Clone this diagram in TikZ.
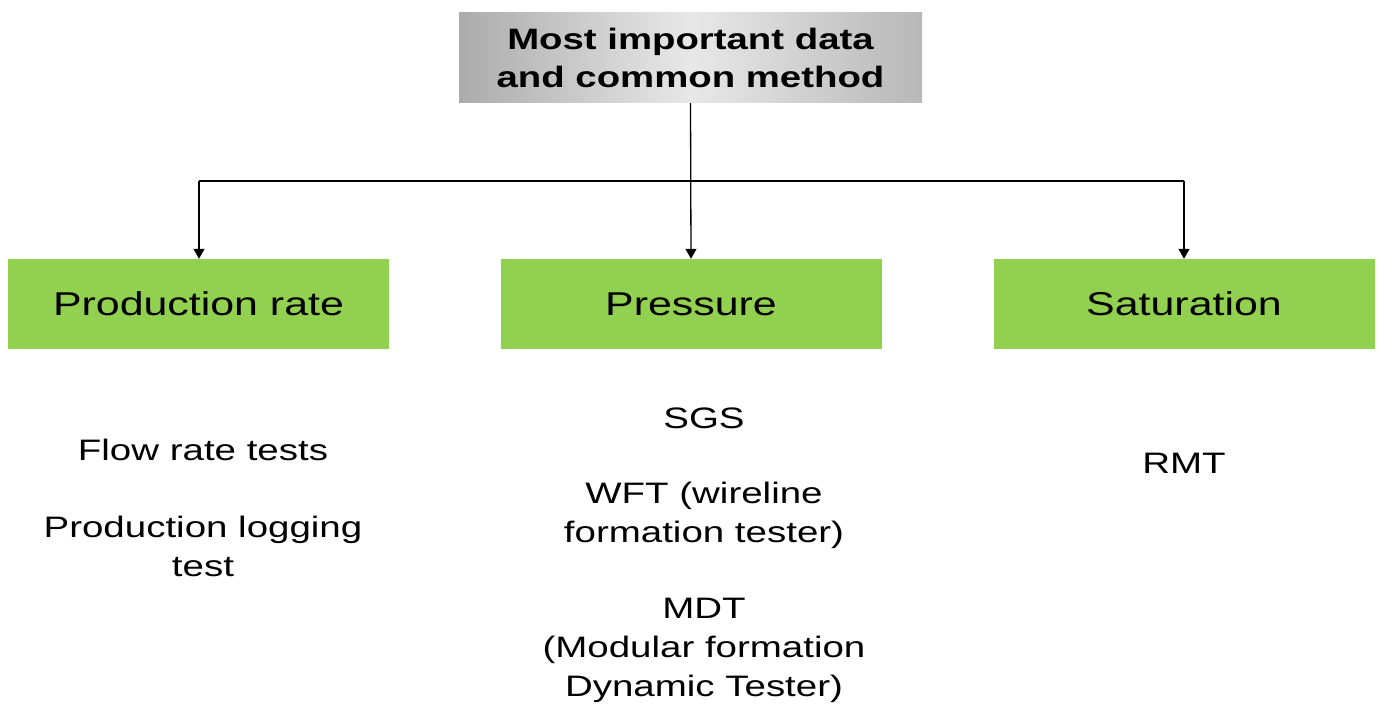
\documentclass[tikz,border=0pt]{standalone}
\usepackage{fontspec}
\setmainfont{Liberation Sans}[FakeStretch=1.3]
\usetikzlibrary{arrows.meta}
\definecolor{boxgreen}{HTML}{92D050}
\definecolor{edgegray}{HTML}{ABABAB}
\definecolor{midgray}{HTML}{E8E8E8}
\begin{document}
\begin{tikzpicture}[x=1pt,y=-1pt,
  gbox/.style={fill=boxgreen, draw=none, minimum width=381pt, minimum height=90pt, inner sep=0pt, font=\fontsize{33}{39}\selectfont},
  topbox/.style={left color=edgegray, right color=edgegray!85, middle color=midgray, draw=none, minimum width=463pt, minimum height=90pt, inner sep=0pt, align=center, font=\bfseries\fontsize{29.5}{38}\selectfont},
  lbl/.style={align=center, inner sep=0pt, font=\fontsize{29.6}{39}\selectfont},
  conn/.style={draw=black, line width=1.3pt},
  arr/.style={conn, -{Triangle[width=11pt,length=10pt]}}
]
\useasboundingbox (0,0) rectangle (1379,706);
\node[topbox] (top) at (690.5,58) {Most important data\\and common method};
\node[gbox] (prod) at (198.5,304) {Production rate};
\node[gbox] (pres) at (691,304) {Pressure};
\node[gbox] (sat) at (1184,304) {Saturation};
\coordinate (jl) at (199,181);
\coordinate (jr) at (1184,181);
\draw[arr] (top.south) -- (pres.north);
\draw[conn] (jl) -- (jr);
\draw[arr] (jl) -- (jl |- prod.north);
\draw[arr] (jr) -- (sat.north);
\node[lbl] (flow) at (203,450) {Flow rate tests};
\node[lbl] (plt) at (203,546) {Production logging\\test};
\node[lbl] (sgs) at (704,418) {SGS};
\node[lbl] (wft) at (704,515) {WFT (wireline\\formation tester)};
\node[lbl] (mdt) at (704,650) {MDT\\(Modular formation\\Dynamic Tester)};
\node[lbl] (rmt) at (1184,463) {RMT};
\end{tikzpicture}
\end{document}
